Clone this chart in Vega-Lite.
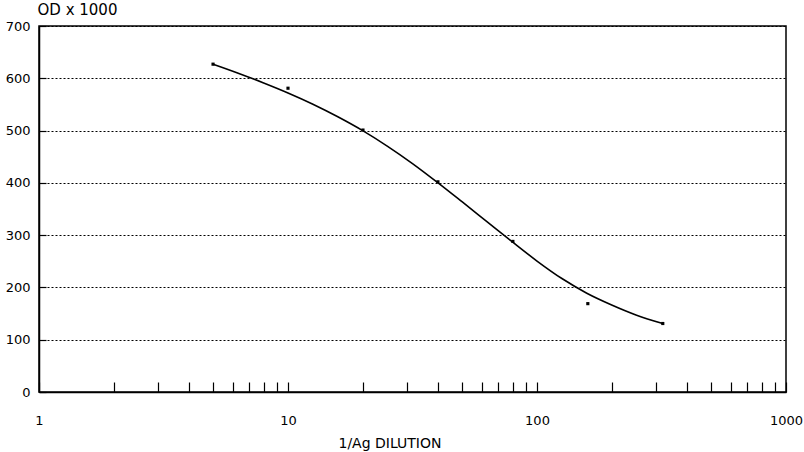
{
  "$schema": "https://vega.github.io/schema/vega-lite/v6.json",
  "width": 747,
  "height": 366,
  "autosize": {"type": "none"},
  "padding": {"left": 39, "top": 26, "right": 18, "bottom": 60},
  "background": "white",
  "config": {
    "view": {"stroke": "black", "strokeWidth": 1.5},
    "font": "DejaVu Sans",
    "axis": {
      "labelFont": "DejaVu Sans",
      "titleFont": "DejaVu Sans",
      "labelColor": "black",
      "titleColor": "black",
      "labelFontSize": 13,
      "titleFontSize": 14,
      "titleFontWeight": "normal",
      "domainColor": "black",
      "domainWidth": 1.5,
      "tickColor": "black",
      "tickWidth": 1.2
    }
  },
  "datasets": {
    "curve": [
      {"dilution": 5, "od": 627},
      {"dilution": 6.31, "od": 609.8},
      {"dilution": 7.94, "od": 591.5},
      {"dilution": 10, "od": 571.9},
      {"dilution": 12.59, "od": 550.4},
      {"dilution": 15.85, "od": 526.4},
      {"dilution": 19.95, "od": 499.9},
      {"dilution": 25.12, "od": 469.9},
      {"dilution": 31.62, "od": 436.9},
      {"dilution": 39.81, "od": 400.9},
      {"dilution": 50.12, "od": 363.4},
      {"dilution": 63.1, "od": 325.4},
      {"dilution": 79.43, "od": 287.5},
      {"dilution": 100, "od": 250.5},
      {"dilution": 125.9, "od": 217},
      {"dilution": 158.5, "od": 189},
      {"dilution": 199.5, "od": 166.5},
      {"dilution": 251.2, "od": 147},
      {"dilution": 320, "od": 131}
    ],
    "points": [
      {"dilution": 5, "od": 627},
      {"dilution": 10, "od": 581},
      {"dilution": 20, "od": 501},
      {"dilution": 40, "od": 402},
      {"dilution": 80, "od": 288},
      {"dilution": 160, "od": 169},
      {"dilution": 320, "od": 131}
    ]
  },
  "layer": [
    {
      "data": {"name": "curve"},
      "mark": {"type": "line", "color": "black", "strokeWidth": 1.6, "interpolate": "monotone", "clip": true},
      "encoding": {
        "x": {
          "field": "dilution", "type": "quantitative",
          "scale": {"type": "log", "domain": [1, 1000], "nice": false},
          "axis": {
            "values": [1,2,3,4,5,6,7,8,9,10,20,30,40,50,60,70,80,90,100,200,300,400,500,600,700,800,900,1000],
            "format": "d",
            "labelExpr": "(datum.value == 1 || datum.value == 10 || datum.value == 100 || datum.value == 1000) ? datum.label : ''",
            "labelOverlap": false,
            "labelFlush": false,
            "labelBound": false,
            "grid": false,
            "tickSize": -10,
            "labelPadding": 32,
            "title": "1/Ag DILUTION",
            "titleAlign": "left",
            "titleBaseline": "top",
            "titleX": 299,
            "titleY": 44
          }
        },
        "y": {
          "field": "od", "type": "quantitative",
          "scale": {"domain": [0, 700], "nice": false, "zero": true},
          "axis": {
            "values": [0,100,200,300,400,500,600,700],
            "grid": true,
            "gridColor": "black",
            "gridDash": [2, 2],
            "gridWidth": 1,
            "gridOpacity": 1,
            "tickSize": -7,
            "labelPadding": 16,
            "title": "OD x 1000",
            "titleAngle": 0,
            "titleAlign": "left",
            "titleBaseline": "alphabetic",
            "titleFontSize": 15,
            "titleX": -2,
            "titleY": -12
          }
        }
      }
    },
    {
      "data": {"name": "points"},
      "mark": {"type": "point", "shape": "square", "filled": true, "color": "black", "size": 10, "opacity": 1},
      "encoding": {
        "x": {"field": "dilution", "type": "quantitative"},
        "y": {"field": "od", "type": "quantitative"}
      }
    }
  ]
}
